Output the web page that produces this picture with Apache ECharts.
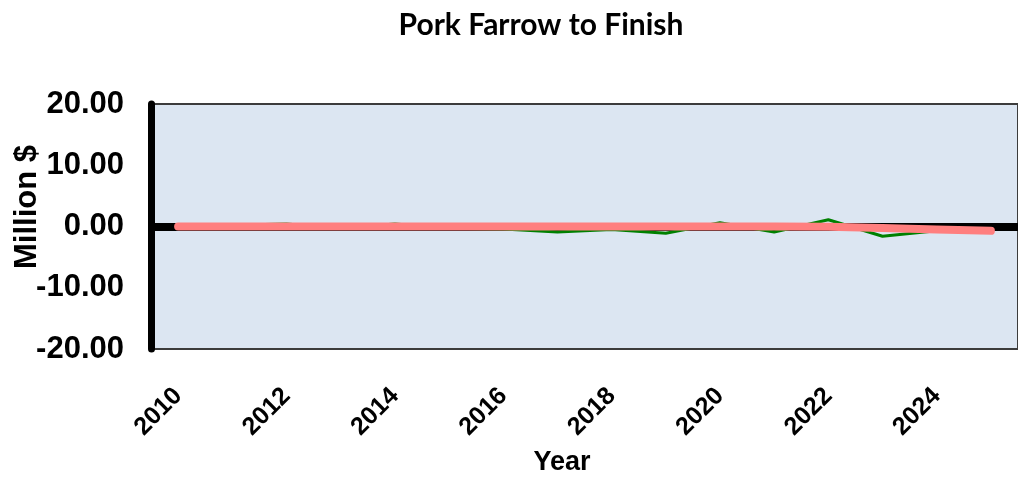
<!DOCTYPE html>
<html>
<head>
<meta charset="utf-8">
<title>Pork Farrow to Finish</title>
<script src="https://cdn.jsdelivr.net/npm/echarts@6/dist/echarts.min.js"></script>
<style>
  html, body { margin: 0; padding: 0; background: #ffffff; }
  #chart { width: 1018px; height: 478px; }
</style>
</head>
<body>
<div id="chart"></div>
<script>
// Years on the horizontal axis
const years = ['2010', '2011', '2012', '2013', '2014', '2015', '2016', '2017',
               '2018', '2019', '2020', '2021', '2022', '2023', '2024', '2025'];
// Annual result, million $
const annualValues = [0.0, 0.2, 0.4, -0.3, 0.4, -0.3, -0.4, -0.9,
                      -0.5, -1.1, 0.6, -0.9, 1.1, -1.6, -0.7, -0.7];
// Smoothed trend, million $
const trendValues = [0, 0, 0, 0, 0, 0, 0, 0,
                     0, 0, 0, 0, -0.05, -0.25, -0.5, -0.7];
// Value axis ticks
const yTicks = [-20, -10, 0, 10, 20];

const labelFont = 'Liberation Sans, Arial, sans-serif';

const chart = echarts.init(document.getElementById('chart'));
chart.setOption({
  animation: false,
  title: {
    text: 'Pork Farrow to Finish',
    left: 536,
    top: 5,
    textAlign: 'center',
    textStyle: { fontFamily: 'Lato, Open Sans, sans-serif', fontWeight: 'bold', fontSize: 30, color: '#000' }
  },
  grid: {
    left: 151, right: -4, top: 104, bottom: 129,
    show: true,
    backgroundColor: '#dce6f2',
    borderColor: '#3c3c3c',
    borderWidth: 2
  },
  xAxis: {
    type: 'category',
    data: years,
    boundaryGap: true,
    axisLine: { show: false },
    axisTick: { show: false },
    splitLine: { show: false },
    axisLabel: {
      interval: 1,
      rotate: 45,
      margin: 43,
      color: '#000',
      fontFamily: labelFont,
      fontWeight: 'bold',
      fontSize: 25
    }
  },
  yAxis: {
    type: 'value',
    min: yTicks[0],
    max: yTicks[yTicks.length - 1],
    interval: 10,
    axisLine: { show: true, lineStyle: { color: '#000', width: 7 } },
    axisTick: { show: false },
    splitLine: { show: false },
    axisLabel: {
      margin: 27,
      color: '#000',
      fontFamily: labelFont,
      fontWeight: 'bold',
      fontSize: 31,
      formatter: v => v.toFixed(2)
    }
  },
  graphic: [
    {
      type: 'text',
      x: 27, y: 207,
      rotation: Math.PI / 2,
      style: {
        text: 'Million $',
        font: 'bold 31px ' + labelFont,
        fill: '#000',
        textAlign: 'center',
        textVerticalAlign: 'middle'
      }
    },
    {
      type: 'text',
      x: 562, y: 463,
      style: {
        text: 'Year',
        font: 'bold 27px ' + labelFont,
        fill: '#000',
        textAlign: 'center',
        textVerticalAlign: 'middle'
      }
    }
  ],
  series: [
    {
      // heavy zero line, kept on the bottom canvas layer
      name: 'zero',
      type: 'line',
      zlevel: 0,
      data: years.map(() => null),
      symbol: 'none',
      silent: true,
      markLine: {
        silent: true,
        symbol: ['none', 'none'],
        label: { show: false },
        lineStyle: { color: '#000', width: 8, type: 'solid' },
        data: [{ yAxis: 0 }]
      }
    },
    {
      name: 'Annual',
      type: 'line',
      zlevel: 1,
      z: 2,
      data: annualValues,
      symbol: 'none',
      lineStyle: { color: '#008000', width: 3 }
    },
    {
      name: 'Trend',
      type: 'line',
      zlevel: 1,
      z: 3,
      data: trendValues,
      symbol: 'none',
      lineStyle: { color: '#ff7f7f', width: 8, cap: 'round', join: 'round' }
    }
  ]
});
</script>
</body>
</html>
